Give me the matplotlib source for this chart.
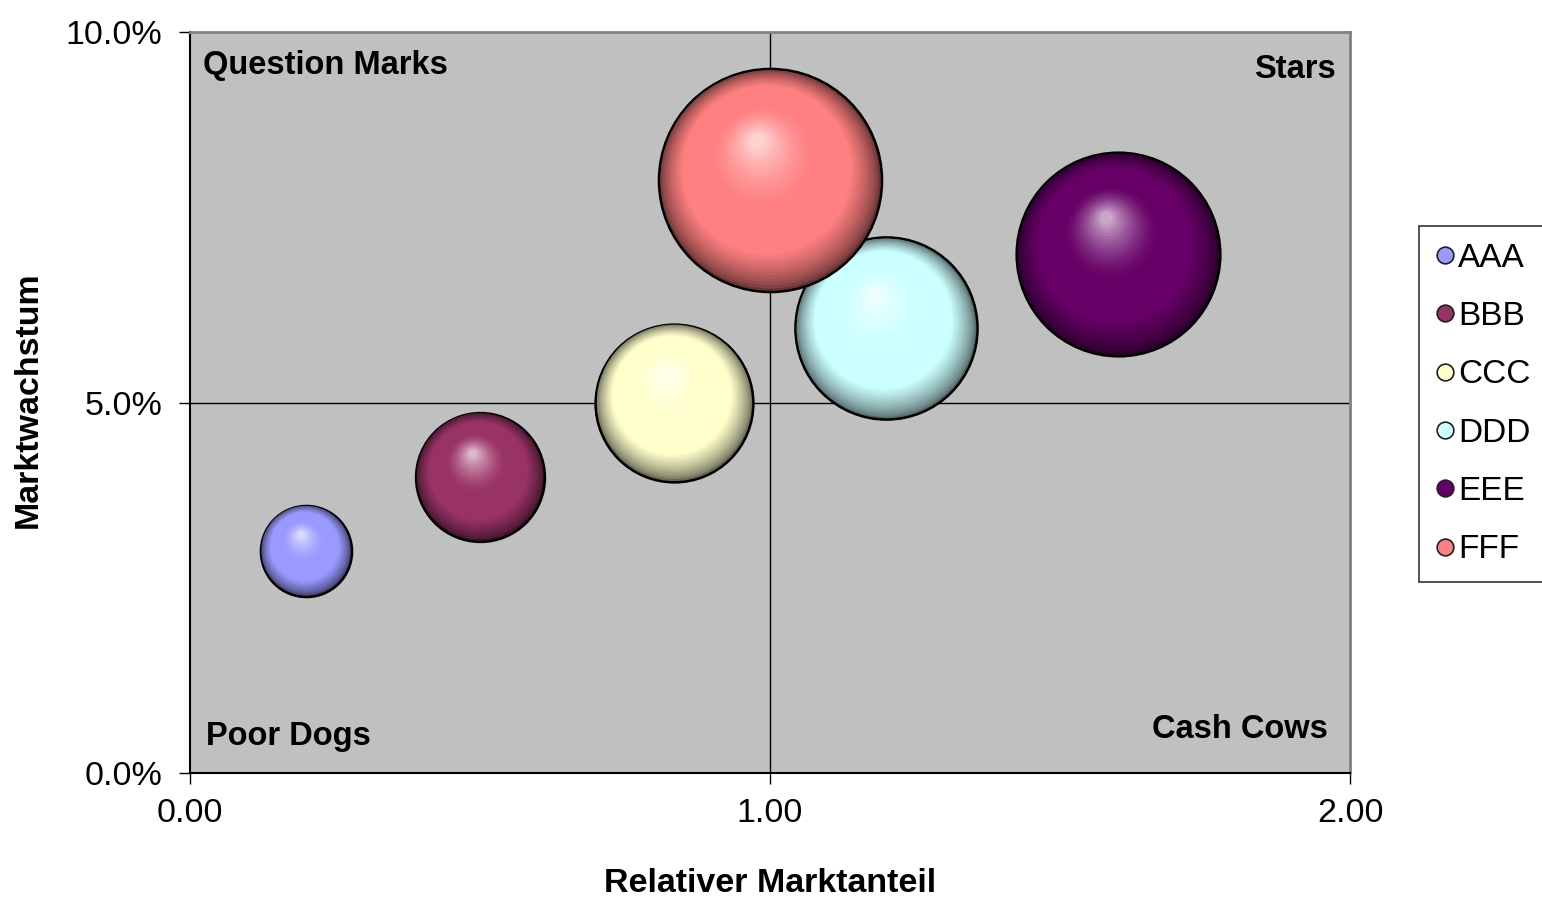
import numpy as np
import matplotlib
matplotlib.use("Agg")
import matplotlib.pyplot as plt
from matplotlib.colors import to_rgb
from matplotlib.lines import Line2D
from matplotlib.transforms import offset_copy

plt.rcParams['font.family'] = ['Liberation Sans', 'DejaVu Sans']

# data
names = ['AAA', 'BBB', 'CCC', 'DDD', 'EEE', 'FFF']
marktanteil = [0.20, 0.50, 0.835, 1.20, 1.60, 1.00]
wachstum = [3.0, 4.0, 5.0, 6.0, 7.0, 8.0]
umsatz = [1, 2, 3, 4, 5, 6]
colors = ['#9999FF', '#993366', '#FFFFCC', '#CCFFFF', '#660066', '#FF8080']

fig = plt.figure(figsize=(15.42, 9), dpi=100)
ax = fig.add_axes([0.1232, 0.1411, 0.7523, 0.8233])
ax.set_facecolor('#C0C0C0')

ax.axvline(1.0, color='black', lw=1, zorder=1)
ax.axhline(5.0, color='black', lw=1, zorder=1)

s_unit = 4300  # points^2 per unit of bubble size
n_layers = 45


def mix(a, b, t):
    return tuple(a[i] * (1 - t) + b[i] * t for i in range(3))


for x, y, sz, c in zip(marktanteil, wachstum, umsatz, colors):
    base = to_rgb(c)
    dark = tuple(v * 0.4 for v in base)
    light = mix(base, (1, 1, 1), 0.7)
    s = s_unit * sz
    r_pt = np.sqrt(s) / 2
    ax.scatter([x], [y], s=s, color=dark, edgecolors='black', linewidths=1.8, zorder=3)
    hx, hy = -0.12 * r_pt, 0.38 * r_pt
    for k in range(1, n_layers):
        t = k / n_layers
        f = 1 - t * 0.96
        if t < 0.25:
            col = mix(dark, base, (t / 0.25) ** 0.7)
        elif t < 0.55:
            col = base
        else:
            col = mix(base, light, ((t - 0.55) / 0.45) ** 1.5)
        tr = offset_copy(ax.transData, fig=fig, x=(1 - f) * hx, y=(1 - f) * hy, units='points')
        ax.scatter([x], [y], s=s * f * f, color=col, edgecolors='none', transform=tr, zorder=3)

ax.set_xlim(0, 2)
ax.set_ylim(0, 10)
ax.set_xticks([0, 1, 2])
ax.set_xticklabels(['0.00', '1.00', '2.00'])
ax.set_yticks([0, 5, 10])
ax.set_yticklabels(['0.0%', '5.0%', '10.0%'])
ax.tick_params(labelsize=24.5, length=8, width=1, direction='out', color='black', pad=12)
ax.tick_params(axis='x', pad=10)

for sp in ['left', 'bottom']:
    ax.spines[sp].set_color('black')
    ax.spines[sp].set_linewidth(1.5)
for sp in ['top', 'right']:
    ax.spines[sp].set_color('#808080')
    ax.spines[sp].set_linewidth(2)

ax.set_xlabel('Relativer Marktanteil', fontsize=24.5, fontweight='bold', labelpad=28)
fig.text(28 / 1542, 0.556, 'Marktwachstum', rotation=90, fontsize=24.5,
         fontweight='bold', ha='center', va='center')

ax.text(0.011, 0.955, 'Question Marks', transform=ax.transAxes, fontsize=23.5,
        fontweight='bold', ha='left', va='center')
ax.text(0.988, 0.95, 'Stars', transform=ax.transAxes, fontsize=23.5,
        fontweight='bold', ha='right', va='center')
ax.text(0.014, 0.049, 'Poor Dogs', transform=ax.transAxes, fontsize=23.5,
        fontweight='bold', ha='left', va='center')
ax.text(0.981, 0.059, 'Cash Cows', transform=ax.transAxes, fontsize=23.5,
        fontweight='bold', ha='right', va='center')

handles = [Line2D([], [], marker='o', linestyle='none', markersize=12,
                  markerfacecolor=c, markeredgecolor='#202020', markeredgewidth=1.2)
           for c in colors]
leg = fig.legend(handles, names, loc='upper left', bbox_to_anchor=(0.9205, 0.749),
                 fontsize=24, frameon=True, fancybox=False, edgecolor='black',
                 handlelength=0.55, handletextpad=0.12, labelspacing=0.82,
                 borderpad=0.5, borderaxespad=0)
leg.get_frame().set_linewidth(1.2)

fig.savefig('out.png', dpi=100)
